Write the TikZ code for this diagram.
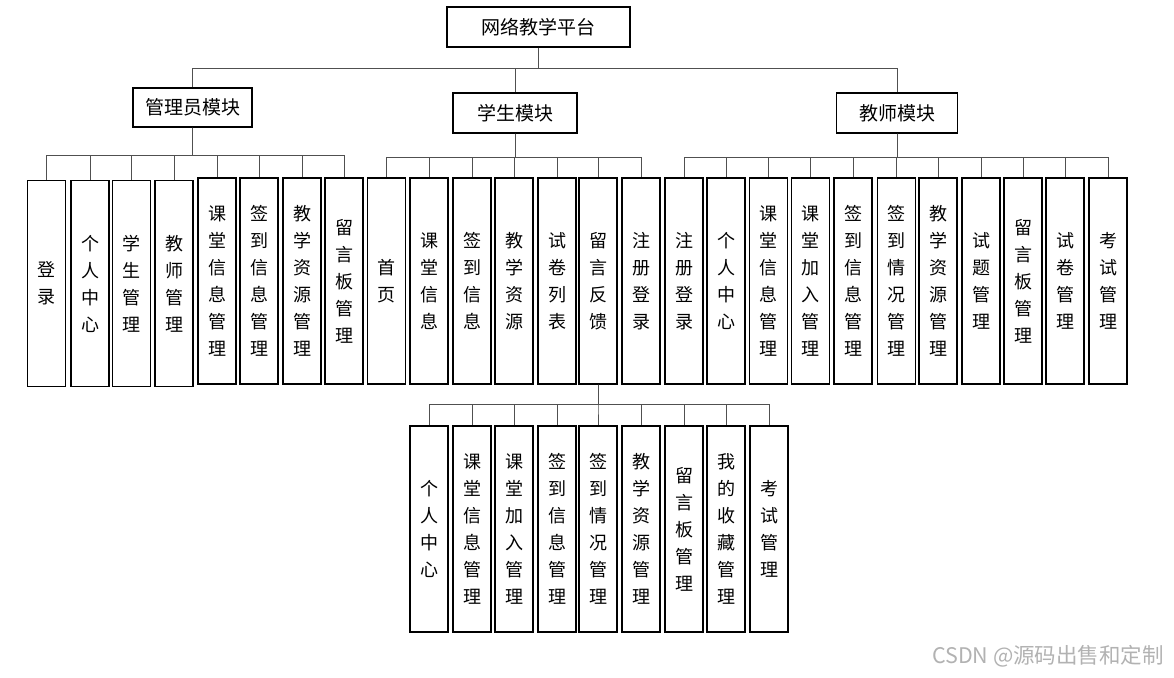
\documentclass[tikz,border=0pt]{standalone}
\usepackage{fontspec}
\usepackage{tikz}
\newfontfamily\cjk{Noto Sans CJK SC}
\definecolor{LinkGray}{HTML}{505050}

\begin{document}
\begin{tikzpicture}[x=1pt, y=-1pt,
  mod/.style={draw, line width=1.3pt, minimum height=40pt, inner sep=0pt,
              font=\cjk\fontsize{19}{22}\selectfont},
  leaf/.style={draw, line width=1.3pt, minimum width=38pt, minimum height=206pt, inner sep=0pt,
               align=center, font=\cjk\fontsize{18}{27}\selectfont},
  link/.style={LinkGray, line width=1pt},
  wm/.style={text=black!30, font=\cjk\fontsize{21.5}{24}\selectfont}]
\useasboundingbox (0,0) rectangle (1174,677);

\node[mod, minimum width=183pt] (root) at (538.5,27) {网络教学平台};
\node[mod, minimum width=119pt, minimum height=39pt] (adm) at (192.5,107.5) {管理员模块};
\node[mod, minimum width=124pt] (stu) at (515,113) {学生模块};
\node[mod, minimum width=121pt] (tea) at (897,113) {教师模块};

\node[leaf] (a1) at (46.5,283.5) {登\\录};
\node[leaf] (a2) at (90,283.5) {个\\人\\中\\心};
\node[leaf] (a3) at (131.5,283.5) {学\\生\\管\\理};
\node[leaf] (a4) at (174,283.5) {教\\师\\管\\理};
\node[leaf] (a5) at (217,281) {课\\堂\\信\\息\\管\\理};
\node[leaf] (a6) at (259,281) {签\\到\\信\\息\\管\\理};
\node[leaf] (a7) at (302,281) {教\\学\\资\\源\\管\\理};
\node[leaf] (a8) at (344,281) {留\\言\\板\\管\\理};

\node[leaf] (s1) at (386.5,281) {首\\页};
\node[leaf] (s2) at (429,281) {课\\堂\\信\\息};
\node[leaf] (s3) at (472,281) {签\\到\\信\\息};
\node[leaf] (s4) at (514,281) {教\\学\\资\\源};
\node[leaf] (s5) at (557,281) {试\\卷\\列\\表};
\node[leaf] (s6) at (598,281) {留\\言\\反\\馈};
\node[leaf] (s7) at (641,281) {注\\册\\登\\录};

\node[leaf] (t1) at (684,281) {注\\册\\登\\录};
\node[leaf] (t2) at (726,281) {个\\人\\中\\心};
\node[leaf] (t3) at (768.5,281) {课\\堂\\信\\息\\管\\理};
\node[leaf] (t4) at (810.5,281) {课\\堂\\加\\入\\管\\理};
\node[leaf] (t5) at (853,281) {签\\到\\信\\息\\管\\理};
\node[leaf] (t6) at (896.5,281) {签\\到\\情\\况\\管\\理};
\node[leaf] (t7) at (938,281) {教\\学\\资\\源\\管\\理};
\node[leaf] (t8) at (981,281) {试\\题\\管\\理};
\node[leaf] (t9) at (1023,281) {留\\言\\板\\管\\理};
\node[leaf] (t10) at (1065,281) {试\\卷\\管\\理};
\node[leaf] (t11) at (1108,281) {考\\试\\管\\理};

\node[leaf] (f1) at (429,529) {个\\人\\中\\心};
\node[leaf] (f2) at (472,529) {课\\堂\\信\\息\\管\\理};
\node[leaf] (f3) at (514,529) {课\\堂\\加\\入\\管\\理};
\node[leaf] (f4) at (557,529) {签\\到\\信\\息\\管\\理};
\node[leaf] (f5) at (598,529) {签\\到\\情\\况\\管\\理};
\node[leaf] (f6) at (641,529) {教\\学\\资\\源\\管\\理};
\node[leaf] (f7) at (684,529) {留\\言\\板\\管\\理};
\node[leaf] (f8) at (726,529) {我\\的\\收\\藏\\管\\理};
\node[leaf] (f9) at (769,529) {考\\试\\管\\理};

\draw[link] (root.south) -- ++(0,21) -| (adm.north);
\draw[link] (root.south) -- ++(0,21) -| (stu.north);
\draw[link] (root.south) -- ++(0,21) -| (tea.north);

\draw[link] (adm.south) -- ++(0,28) -| (a1.north); \draw[link] (adm.south) -- ++(0,28) -| (a2.north);
\draw[link] (adm.south) -- ++(0,28) -| (a3.north); \draw[link] (adm.south) -- ++(0,28) -| (a4.north);
\draw[link] (adm.south) -- ++(0,28) -| (a5.north); \draw[link] (adm.south) -- ++(0,28) -| (a6.north);
\draw[link] (adm.south) -- ++(0,28) -| (a7.north); \draw[link] (adm.south) -- ++(0,28) -| (a8.north);

\draw[link] (stu.south) -- ++(0,24) -| (s1.north); \draw[link] (stu.south) -- ++(0,24) -| (s2.north);
\draw[link] (stu.south) -- ++(0,24) -| (s3.north); \draw[link] (stu.south) -- ++(0,24) -| (s4.north);
\draw[link] (stu.south) -- ++(0,24) -| (s5.north); \draw[link] (stu.south) -- ++(0,24) -| (s6.north);
\draw[link] (stu.south) -- ++(0,24) -| (s7.north);

\draw[link] (tea.south) -- ++(0,24) -| (t1.north); \draw[link] (tea.south) -- ++(0,24) -| (t2.north);
\draw[link] (tea.south) -- ++(0,24) -| (t3.north); \draw[link] (tea.south) -- ++(0,24) -| (t4.north);
\draw[link] (tea.south) -- ++(0,24) -| (t5.north); \draw[link] (tea.south) -- ++(0,24) -| (t6.north);
\draw[link] (tea.south) -- ++(0,24) -| (t7.north); \draw[link] (tea.south) -- ++(0,24) -| (t8.north);
\draw[link] (tea.south) -- ++(0,24) -| (t9.north); \draw[link] (tea.south) -- ++(0,24) -| (t10.north);
\draw[link] (tea.south) -- ++(0,24) -| (t11.north);

\draw[link] (s6.south) -- ++(0,20) -| (f1.north); \draw[link] (s6.south) -- ++(0,20) -| (f2.north);
\draw[link] (s6.south) -- ++(0,20) -| (f3.north); \draw[link] (s6.south) -- ++(0,20) -| (f4.north);
\draw[link] (s6.south) -- ++(0,20) -| (f5.north); \draw[link] (s6.south) -- ++(0,20) -| (f6.north);
\draw[link] (s6.south) -- ++(0,20) -| (f7.north); \draw[link] (s6.south) -- ++(0,20) -| (f8.north);
\draw[link] (s6.south) -- ++(0,20) -| (f9.north);

\node[wm] (wmark) at (1048,656) {CSDN @源码出售和定制};
\end{tikzpicture}
\end{document}
